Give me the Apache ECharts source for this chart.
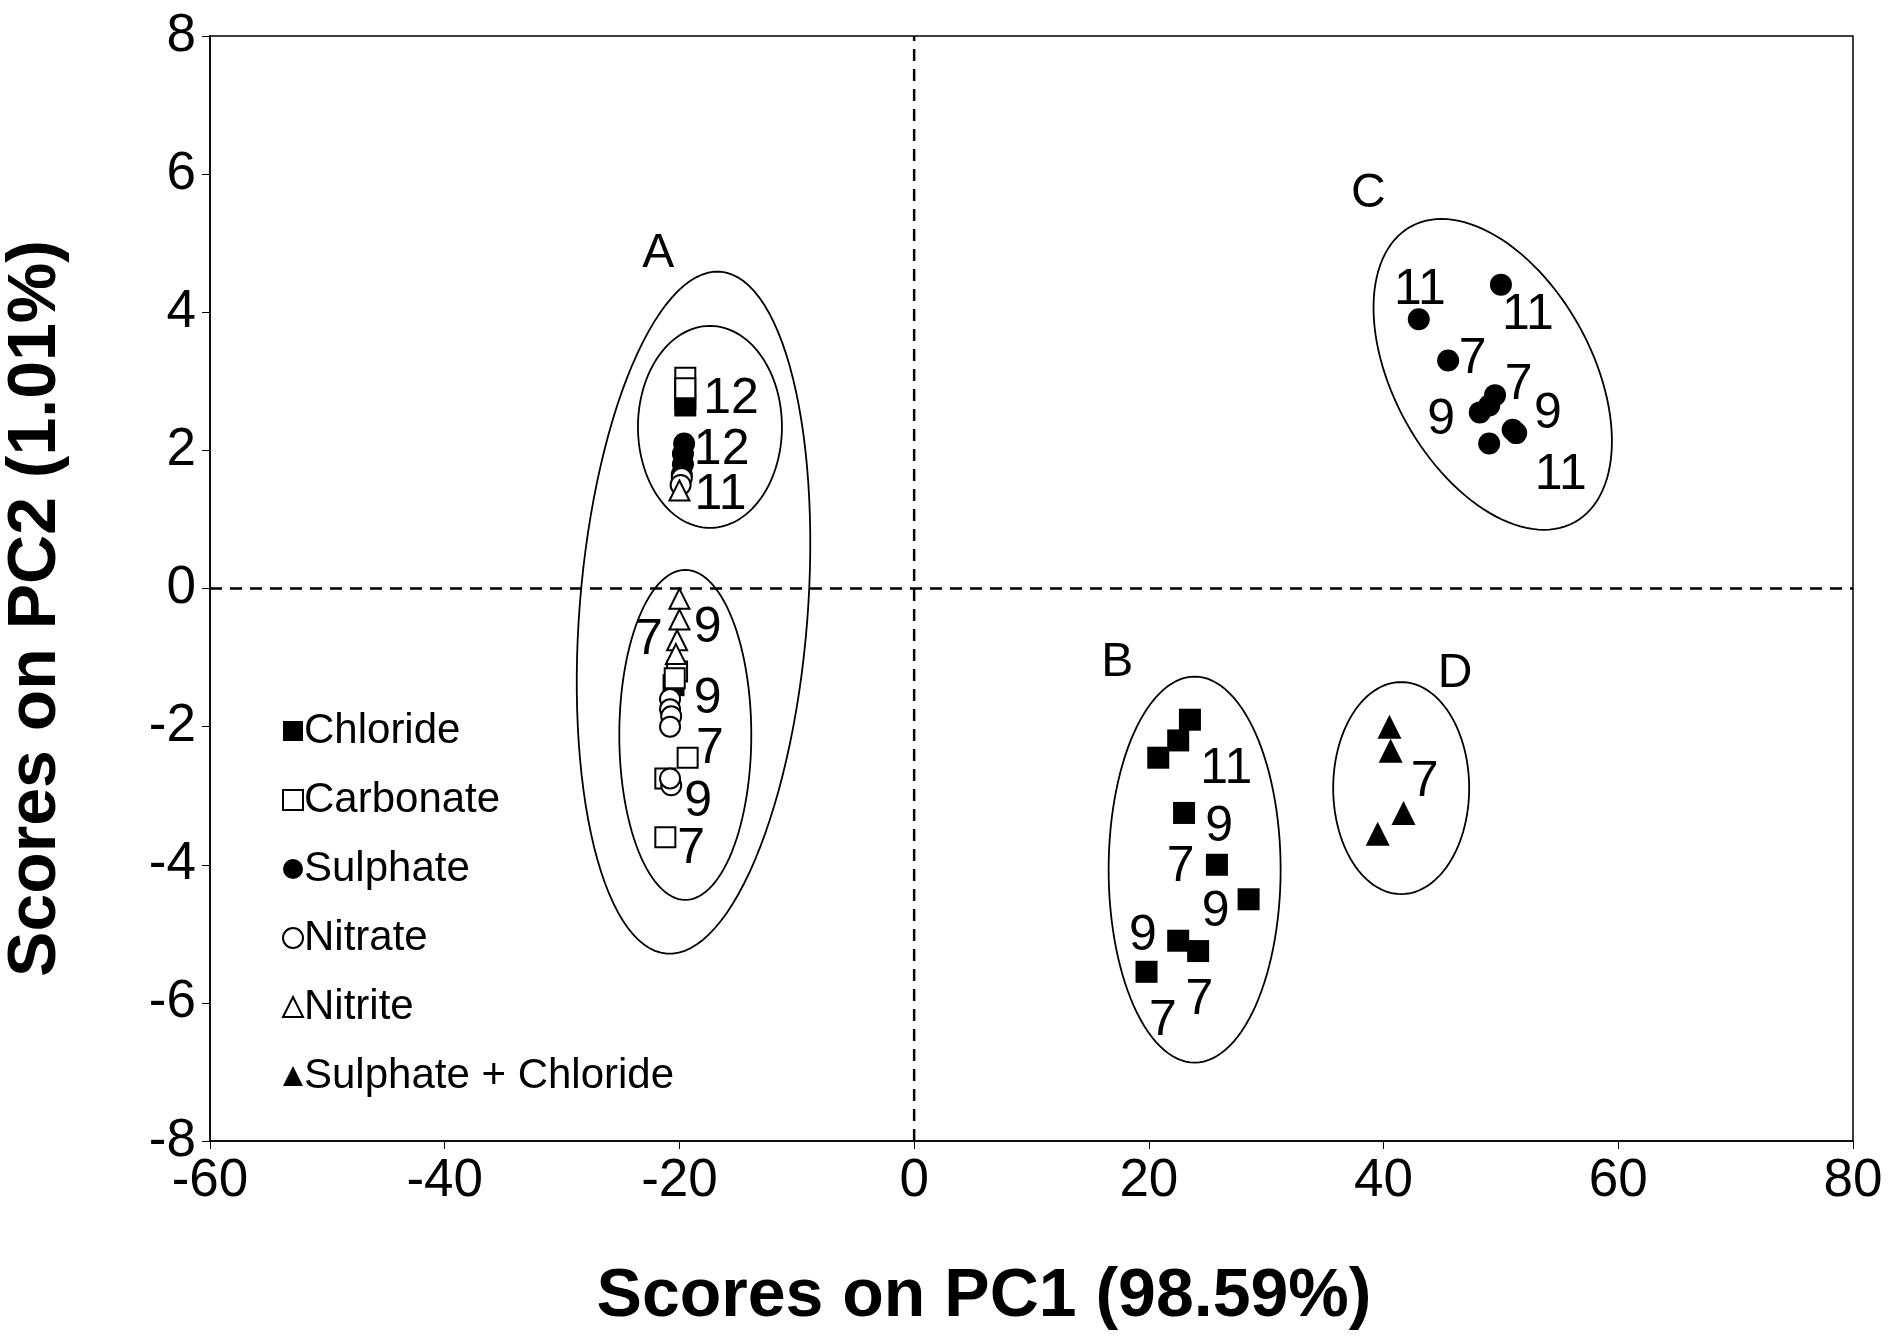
<!DOCTYPE html>
<html><head><meta charset="utf-8">
<script src="https://cdn.jsdelivr.net/npm/echarts@6/dist/echarts.min.js"></script>
<style>html,body{margin:0;background:#fff}#c{width:1893px;height:1342px}</style>
</head><body><div id="c"></div>
<script>
const chloride=[[23.5,-1.9],[22.5,-2.2],[20.8,-2.45],[23,-3.25],[25.8,-4.0],[28.5,-4.5],[22.5,-5.1],[24.2,-5.25],[19.8,-5.55],[-19.5,2.75],[-19.5,2.65],[-20.5,-1.4]];
const carbonate=[[-19.5,3.05],[-19.5,2.9],[-20.2,-1.2],[-20.4,-1.3],[-19.3,-2.45],[-21.2,-2.75],[-21.2,-3.6]];
const sulphate=[[50,4.4],[43,3.9],[45.5,3.3],[49.5,2.8],[49,2.65],[48.2,2.55],[51,2.3],[51.3,2.25],[49,2.1],[-19.6,2.1],[-19.7,1.95],[-19.7,1.8],[-19.8,1.65]];
const nitrate=[[-19.8,1.6],[-19.9,1.5],[-20.8,-1.6],[-20.8,-1.75],[-20.7,-1.85],[-20.8,-2.0],[-20.7,-2.85],[-20.8,-2.75]];
const nitrite=[[-20,1.42],[-20,-0.15],[-20,-0.45],[-20.2,-0.75],[-20.3,-0.95]];
const sulphChlor=[[40.5,-2.0],[40.6,-2.35],[41.7,-3.25],[39.5,-3.55]];
const sampleLabels=[[-15.6,2.74,'12'],[-16.4,2.0,'12'],[-16.5,1.35,'11'],[-22.6,-0.75,'7'],[-17.6,-0.58,'9'],[-17.6,-1.6,'9'],[-17.4,-2.33,'7'],[-18.4,-3.1,'9'],[-19.0,-3.78,'7'],
[26.6,-2.62,'11'],[26.0,-3.46,'9'],[22.7,-4.04,'7'],[25.7,-4.69,'9'],[19.5,-5.03,'9'],[24.3,-5.96,'7'],[21.2,-6.26,'7'],[43.5,-2.81,'7'],
[43.1,4.32,'11'],[52.3,3.95,'11'],[47.6,3.32,'7'],[51.5,2.95,'7'],[44.9,2.43,'9'],[54.0,2.53,'9'],[55.1,1.64,'11']];
const groupLabels=[[-21.8,4.84,'A'],[38.7,5.72,'C'],[17.3,-1.07,'B'],[46.1,-1.24,'D']];
const zeroV=[[0,-8],[0,8]];
const zeroH=[[-60,0],[80,0]];
// ellipse annotations: center x, center y, semi-axis a (px), semi-axis b (px), screen rotation deg
const ellipses=[[-18.8,-0.35,342,114,-85.5],[-17.4,2.34,101,72,90],[-19.5,-2.12,165,66,90],[23.9,-4.07,193,86,90],[41.5,-2.89,106,68,90],[49.3,3.1,169,99,61]];
const ff='Liberation Sans, Arial, sans-serif';
function ser(name,data,sym,filled,size){return{name,type:'scatter',data,symbol:sym,symbolSize:size,z:4,
 itemStyle:{color:filled?'#000':'#fff',borderColor:'#000',borderWidth:filled?0:2,opacity:1}};}
function dash(data){return{type:'line',data,symbol:'none',silent:true,z:2,lineStyle:{color:'#000',type:[12,8],width:2.5,cap:'butt'}};}
const chart=echarts.init(document.getElementById('c'));
chart.setOption({
 animation:false,backgroundColor:'#fff',
 grid:{left:210,right:40,top:36,bottom:201,show:true,borderColor:'#000',borderWidth:1.5,containLabel:false,outerBoundsMode:'none'},
 xAxis:{type:'value',min:-60,max:80,interval:20,name:'Scores on PC1 (98.59%)',nameLocation:'middle',nameGap:122,
  nameTextStyle:{fontSize:68,fontWeight:'bold',color:'#000',fontFamily:ff,padding:[0,95,0,0]},
  axisLine:{onZero:false,lineStyle:{color:'#000',width:1.5}},axisTick:{inside:false,length:8,lineStyle:{color:'#000'}},splitLine:{show:false},
  axisLabel:{fontSize:53,color:'#000',fontFamily:ff,margin:14}},
 yAxis:{type:'value',min:-8,max:8,interval:2,name:'Scores on PC2 (1.01%)',nameLocation:'middle',nameGap:140,
  nameTextStyle:{fontSize:68,fontWeight:'bold',color:'#000',fontFamily:ff,padding:[0,40,0,0]},
  axisLine:{onZero:false,lineStyle:{color:'#000',width:1.5}},axisTick:{length:8,lineStyle:{color:'#000'}},splitLine:{show:false},
  axisLabel:{fontSize:53,color:'#000',fontFamily:ff,margin:14}},
 legend:{orient:'vertical',left:277,top:705,itemGap:27,itemWidth:20,itemHeight:20,
  textStyle:{fontSize:42,color:'#000',fontFamily:ff,padding:[0,0,0,-4]},
  data:['Chloride','Carbonate','Sulphate','Nitrate','Nitrite','Sulphate + Chloride']},
 series:[
  {type:'custom',silent:true,data:ellipses,z:1,renderItem:function(p,api){
    const c=api.coord([api.value(0),api.value(1)]);const a=api.value(2),b=api.value(3),r=api.value(4)*Math.PI/180;
    const pts=[];for(let i=0;i<=120;i++){const t=i/120*2*Math.PI;const x=a*Math.cos(t),y=b*Math.sin(t);
     pts.push([c[0]+x*Math.cos(r)-y*Math.sin(r),c[1]+x*Math.sin(r)+y*Math.cos(r)]);}
    return{type:'polyline',shape:{points:pts},style:{stroke:'#000',lineWidth:1.8,fill:null}};}},
  {type:'scatter',silent:true,symbolSize:1,itemStyle:{opacity:0},data:sampleLabels,z:5,
   label:{show:true,position:'inside',formatter:p=>p.data[2],fontSize:50,color:'#000',opacity:1,textBorderWidth:0,fontFamily:ff}},
  {type:'scatter',silent:true,symbolSize:1,itemStyle:{opacity:0},data:groupLabels,z:5,
   label:{show:true,position:'inside',formatter:p=>p.data[2],fontSize:48,color:'#000',opacity:1,textBorderWidth:0,fontFamily:ff}},
  dash(zeroV),dash(zeroH),
  ser('Chloride',chloride,'rect',true,22),
  ser('Carbonate',carbonate,'rect',false,20),
  ser('Sulphate',sulphate,'circle',true,22),
  ser('Nitrate',nitrate,'circle',false,20),
  ser('Nitrite',nitrite,'triangle',false,20),
  ser('Sulphate + Chloride',sulphChlor,'triangle',true,24)
 ]
});
</script></body></html>
